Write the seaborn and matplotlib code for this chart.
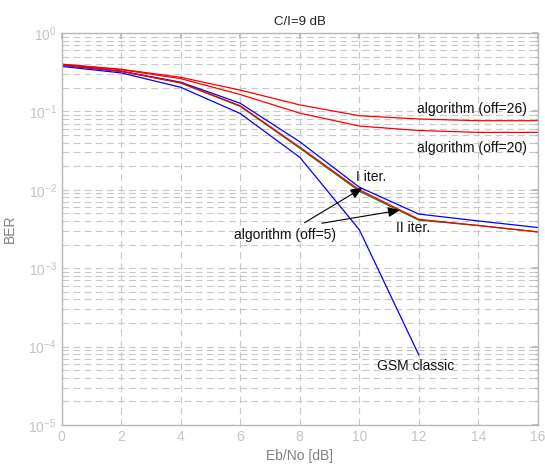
import matplotlib
matplotlib.use("Agg")
import matplotlib.pyplot as plt
import seaborn as sns
import numpy as np
import pandas as pd

ebno = [0, 2, 4, 6, 8, 10, 12, 14, 16]
off26 = [0.40, 0.345, 0.272, 0.187, 0.121, 0.088, 0.080, 0.076, 0.076]
off20 = [0.40, 0.340, 0.262, 0.164, 0.095, 0.065, 0.057, 0.054, 0.054]
iter1 = [0.39, 0.325, 0.236, 0.127, 0.041, 0.0108, 0.0049, 0.0040, 0.0033]
iter2 = [0.39, 0.325, 0.232, 0.118, 0.035, 0.0100, 0.0042, 0.0035, 0.0029]
green = [0.39, 0.325, 0.230, 0.116, 0.034, 0.0096, 0.0041, 0.0035, 0.0029]
gsm_x = [0, 2, 4, 6, 8, 10, 12]
gsm = [0.375, 0.31, 0.203, 0.094, 0.026, 0.0031, 7.8e-5]

sns.set_theme(style="white")
plt.rcParams['font.family'] = ['Liberation Sans', 'DejaVu Sans']

fig = plt.figure(figsize=(5.45, 4.68), dpi=100)
ax = fig.add_axes([0.113, 0.092, 0.874, 0.8375])

series = [
    (ebno, green, "#008000"),
    (ebno, off26, "#ff0000"),
    (ebno, off20, "#ff0000"),
    (ebno, iter1, "#0000ff"),
    (gsm_x, gsm, "#0000ff"),
    (ebno, iter2, "#ff0000"),
]
for xs, ys, c in series:
    df = pd.DataFrame({"x": xs, "y": ys})
    sns.lineplot(data=df, x="x", y="y", ax=ax, color=c, lw=0.9)

ax.set_yscale("log")
ax.set_xlim(0, 16)
ax.set_ylim(1e-5, 1)
ax.set_xticks(range(0, 17, 2))

gridc = "#c8c8c8"
ax.grid(True, which="major", axis="both", ls=(0, (6, 4)), color=gridc, lw=0.8)
ax.grid(True, which="minor", axis="y", ls=(0, (6, 4)), color=gridc, lw=0.8)
ax.set_axisbelow(True)

for s in ax.spines.values():
    s.set_visible(True)
    s.set_color("#b8b8b8")
    s.set_linewidth(1.0)

ax.tick_params(which="both", direction="in", top=True, right=True,
               colors="#b8b8b8", labelcolor="#c4c4c4", labelsize=10)
ax.tick_params(which="major", length=4)
ax.tick_params(which="minor", length=2)

ax.set_xlabel("Eb/No [dB]", color="#808080", fontsize=10, labelpad=4)
ax.set_ylabel("BER", color="#808080", fontsize=10, labelpad=8)
ax.set_title("C/I=9 dB", color="#222222", fontsize=9.5, pad=6)

tk = dict(fontsize=10, color="#111111", ha="center", va="center")
ax.text(13.8, 0.107, "algorithm (off=26)", **tk)
ax.text(13.8, 0.0341, "algorithm (off=20)", **tk)
ax.text(10.4, 0.0146, "I iter.", **tk)
ax.text(11.8, 0.00326, "II iter.", **tk)
ax.text(7.52, 0.00265, "algorithm (off=5)", **tk)
ax.text(11.9, 5.66e-5, "GSM classic", **tk)

ap = dict(arrowstyle="-|>,head_length=0.6,head_width=0.25", color="black", lw=0.8,
          mutation_scale=12, shrinkA=0, shrinkB=0)
ax.annotate("", xy=(10.11, 0.0106), xytext=(8.16, 0.0038), arrowprops=ap)
ax.annotate("", xy=(11.37, 0.0055), xytext=(8.74, 0.00374), arrowprops=ap)

fig.savefig("out.png", dpi=100)
